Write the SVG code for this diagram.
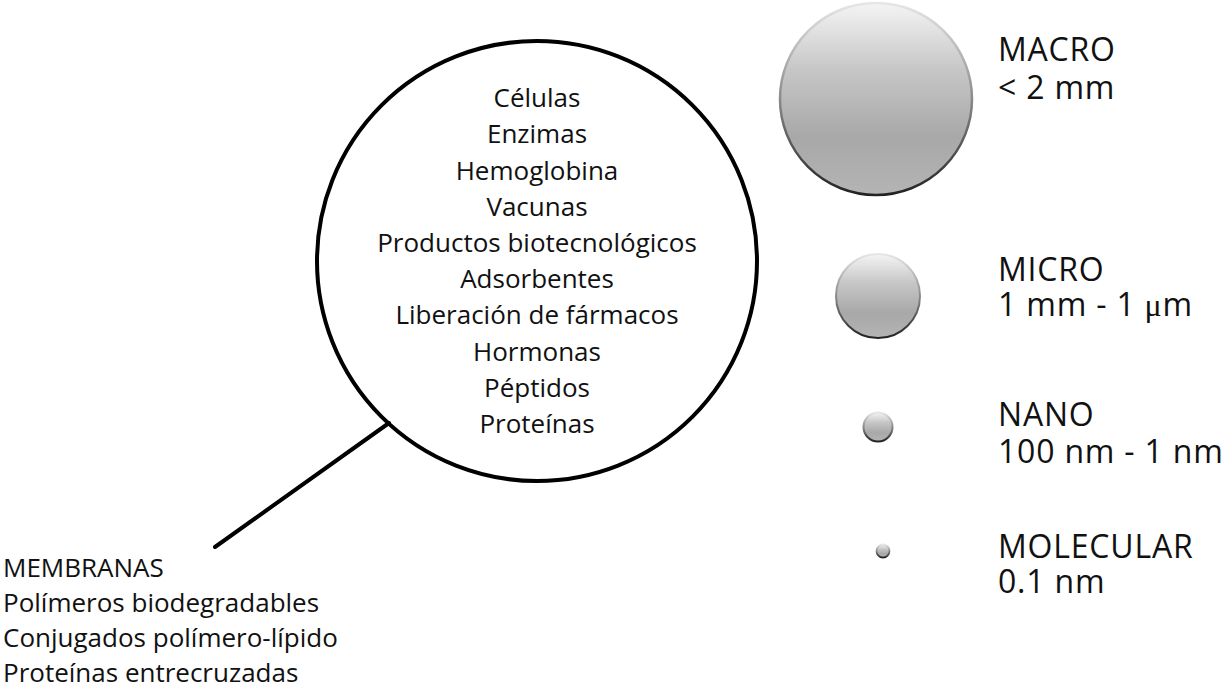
<svg xmlns="http://www.w3.org/2000/svg" width="1223" height="688" viewBox="0 0 1223 688">
<style>
.t{font-family:"Open Sans","Noto Sans",sans-serif;fill:#111;}
.c{font-size:26px;font-weight:500;text-anchor:middle;}
.l{font-size:26px;font-weight:500;}
.r{font-size:32px;letter-spacing:0.8px;}
.mu{font-family:"Liberation Serif",serif;}
</style>
<defs>
<linearGradient id="gf" x1="0" y1="0" x2="0" y2="1">
<stop offset="0" stop-color="#f4f4f4"/>
<stop offset="0.35" stop-color="#c6c6c6"/>
<stop offset="0.7" stop-color="#a8a8a8"/>
<stop offset="1" stop-color="#b4b4b4"/>
</linearGradient>
<linearGradient id="gs" x1="0" y1="0" x2="0" y2="1">
<stop offset="0" stop-color="#e6e6e6"/>
<stop offset="0.5" stop-color="#8a8a8a"/>
<stop offset="1" stop-color="#222"/>
</linearGradient>
</defs>
<rect width="1223" height="688" fill="#fff"/>
<g id="connectors">
<line x1="215" y1="547" x2="389" y2="423" stroke="#000" stroke-width="4" stroke-linecap="round"/>
</g>
<g id="lens">
<circle cx="537" cy="261" r="220" fill="none" stroke="#000" stroke-width="4"/>
<text class="t c" x="537" y="107">Células</text>
<text class="t c" x="537" y="143">Enzimas</text>
<text class="t c" x="537" y="180">Hemoglobina</text>
<text class="t c" x="537" y="216">Vacunas</text>
<text class="t c" x="537" y="252">Productos biotecnológicos</text>
<text class="t c" x="537" y="288">Adsorbentes</text>
<text class="t c" x="537" y="324">Liberación de fármacos</text>
<text class="t c" x="537" y="361">Hormonas</text>
<text class="t c" x="537" y="397">Péptidos</text>
<text class="t c" x="537" y="433">Proteínas</text>
</g>
<g id="membranas">
<text class="t l" x="3" y="577">MEMBRANAS</text>
<text class="t l" x="3" y="612">Polímeros biodegradables</text>
<text class="t l" x="3" y="647">Conjugados polímero-lípido</text>
<text class="t l" x="3" y="682">Proteínas entrecruzadas</text>
</g>
<g id="macro">
<circle cx="876" cy="99" r="96" fill="url(#gf)" stroke="url(#gs)" stroke-width="2.5"/>
<text class="t r" x="998" y="61">MACRO</text>
<text class="t r" x="998" y="99">&lt; 2 mm</text>
</g>
<g id="micro">
<circle cx="878" cy="296" r="42" fill="url(#gf)" stroke="url(#gs)" stroke-width="2"/>
<text class="t r" x="998" y="281">MICRO</text>
<text class="t r" x="998" y="316">1 mm - 1 <tspan class="mu">μ</tspan>m</text>
</g>
<g id="nano">
<circle cx="878" cy="427" r="14.5" fill="url(#gf)" stroke="url(#gs)" stroke-width="2"/>
<text class="t r" x="998" y="426">NANO</text>
<text class="t r" x="998" y="463">100 nm - 1 nm</text>
</g>
<g id="molecular">
<circle cx="883" cy="551" r="6.5" fill="url(#gf)" stroke="url(#gs)" stroke-width="1.8"/>
<text class="t r" x="998" y="558">MOLECULAR</text>
<text class="t r" x="998" y="593">0.1 nm</text>
</g>
</svg>
